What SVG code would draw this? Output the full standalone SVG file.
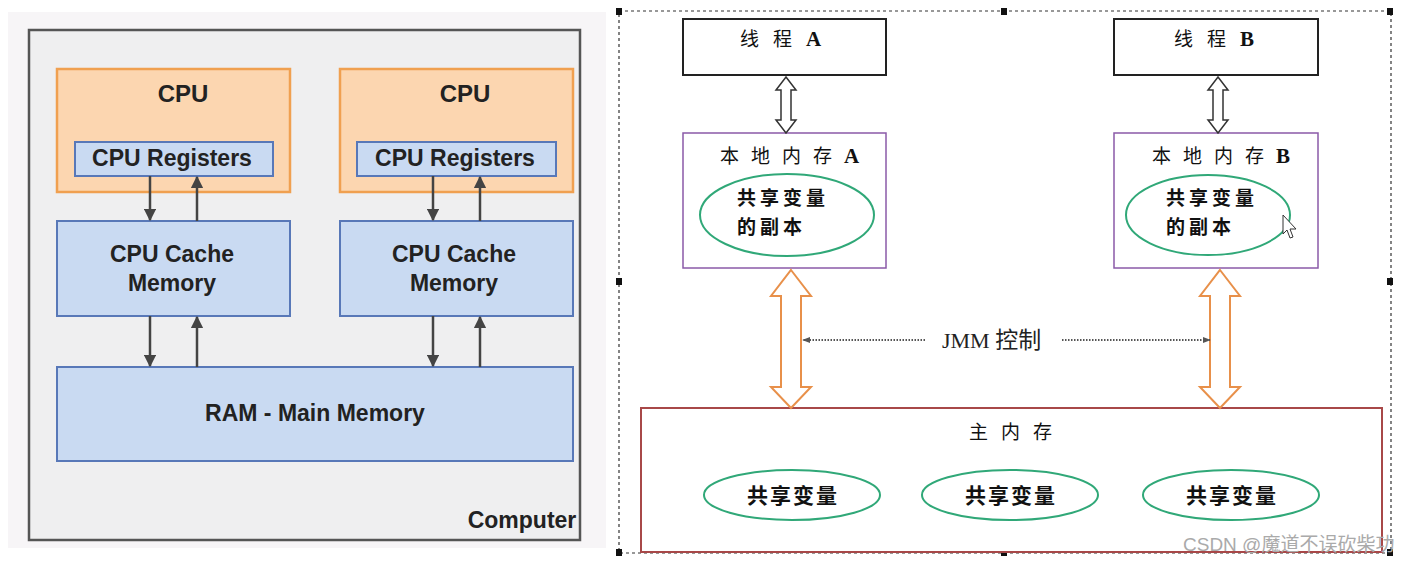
<svg xmlns="http://www.w3.org/2000/svg" width="1410" height="564" viewBox="0 0 1410 564">
<defs>
<style>
.en{font-family:"Liberation Sans",Arial,sans-serif;font-weight:bold;fill:#222;text-anchor:middle}
.cpu{fill:#fcd6b0;stroke:#f0a050;stroke-width:2.5}
.blue{fill:#c9daf2;stroke:#5878b8;stroke-width:2}
.ln{stroke:#444;stroke-width:2.5;fill:none}
.cn{font-family:"Noto Sans CJK SC","Liberation Sans",sans-serif;fill:#111;font-size:19px}
.sp{letter-spacing:12px}
.ev{font-family:"Noto Sans CJK SC",sans-serif;fill:#111;font-size:21px;font-weight:bold;letter-spacing:2px}
.ev2{font-family:"Noto Sans CJK SC",sans-serif;fill:#111;font-size:19px;font-weight:bold;letter-spacing:4px}
.ser{font-family:"Liberation Serif","Noto Sans CJK SC",serif;font-weight:bold;font-size:21px}
.ell{fill:#fff;stroke:#30a878;stroke-width:2}
.hollow{fill:#fff;stroke:#333;stroke-width:1.5}
.oarrow{fill:#fff;stroke:#e8904a;stroke-width:2}
.dot{stroke:#555;stroke-width:2;stroke-dasharray:1.5 1.5;fill:none}
.hdl{fill:#111}
</style>
<marker id="ah" viewBox="0 0 10 10" refX="9" refY="5" markerWidth="5" markerHeight="5" orient="auto-start-reverse"><path d="M0,0 L10,5 L0,10 z" fill="#444"/></marker>
<marker id="dh" viewBox="0 0 10 10" refX="9" refY="5" markerWidth="4" markerHeight="4" orient="auto-start-reverse"><path d="M0,1 L10,5 L0,9 z" fill="#555"/></marker>
</defs>
<rect width="1410" height="564" fill="#fff"/>
<!-- Left panel -->
<rect x="8" y="12" width="598" height="536" fill="#f7f5f7"/>
<g id="computer">
<rect x="29" y="30" width="551" height="510" fill="#efeff0" stroke="#555" stroke-width="2.5"/>
<text class="en" x="522" y="528" font-size="23">Computer</text>
</g>
<g id="cpu1"><rect class="cpu" x="57" y="69" width="233" height="123"/><text class="en" x="183" y="102" font-size="24">CPU</text></g>
<g id="cpu2"><rect class="cpu" x="340" y="69" width="233" height="123"/><text class="en" x="465" y="102" font-size="24">CPU</text></g>
<g id="reg1"><rect class="blue" x="75" y="142" width="198" height="34"/><text class="en" x="172" y="166" font-size="23">CPU Registers</text></g>
<g id="reg2"><rect class="blue" x="357" y="142" width="199" height="34"/><text class="en" x="455" y="166" font-size="23">CPU Registers</text></g>
<g id="cache1"><rect class="blue" x="57" y="221" width="233" height="95"/><text class="en" x="172" y="262" font-size="23">CPU Cache</text><text class="en" x="172" y="291" font-size="23">Memory</text></g>
<g id="cache2"><rect class="blue" x="340" y="221" width="233" height="95"/><text class="en" x="454" y="262" font-size="23">CPU Cache</text><text class="en" x="454" y="291" font-size="23">Memory</text></g>
<g id="ram"><rect class="blue" x="57" y="367" width="516" height="94"/><text class="en" x="315" y="421" font-size="23">RAM - Main Memory</text></g>
<g id="left-connectors">
<line class="ln" x1="150" y1="176" x2="150" y2="220" marker-end="url(#ah)"/>
<line class="ln" x1="197" y1="221" x2="197" y2="177" marker-end="url(#ah)"/>
<line class="ln" x1="433" y1="176" x2="433" y2="220" marker-end="url(#ah)"/>
<line class="ln" x1="480" y1="221" x2="480" y2="177" marker-end="url(#ah)"/>
<line class="ln" x1="150" y1="316" x2="150" y2="366" marker-end="url(#ah)"/>
<line class="ln" x1="197" y1="367" x2="197" y2="317" marker-end="url(#ah)"/>
<line class="ln" x1="433" y1="316" x2="433" y2="366" marker-end="url(#ah)"/>
<line class="ln" x1="480" y1="367" x2="480" y2="317" marker-end="url(#ah)"/>
</g>
<!-- Right panel -->
<g id="frame">
<rect x="619" y="11" width="772" height="542" fill="none" stroke="#333" stroke-width="1.2" stroke-dasharray="3 3"/>
<rect class="hdl" x="616" y="8" width="6" height="7"/><rect class="hdl" x="1001" y="8" width="6" height="7"/><rect class="hdl" x="1387" y="8" width="6" height="7"/>
<rect class="hdl" x="616" y="278" width="6" height="7"/><rect class="hdl" x="1387" y="278" width="6" height="7"/>
<rect class="hdl" x="616" y="549" width="6" height="7"/><rect class="hdl" x="1001" y="549" width="6" height="7"/><rect class="hdl" x="1387" y="549" width="6" height="7"/>
</g>
<g id="threadA"><rect x="683" y="19" width="203" height="56" fill="#fff" stroke="#222" stroke-width="2"/><text class="cn" x="740" y="46" letter-spacing="14">线程<tspan class="ser">A</tspan></text></g>
<g id="threadB"><rect x="1114" y="19" width="204" height="56" fill="#fff" stroke="#222" stroke-width="2"/><text class="cn" x="1174" y="46" letter-spacing="14">线程<tspan class="ser">B</tspan></text></g>
<g id="localA">
<rect x="683" y="133" width="203" height="135" fill="#fff" stroke="#8a5aa8" stroke-width="1.5"/>
<text class="cn sp" x="720" y="163">本地内存<tspan class="ser">A</tspan></text>
<ellipse class="ell" cx="787" cy="215" rx="87" ry="41"/>
<text class="ev2" x="737" y="205">共享变量</text><text class="ev2" x="737" y="234">的副本</text>
</g>
<g id="localB">
<rect x="1114" y="133" width="204" height="135" fill="#fff" stroke="#8a5aa8" stroke-width="1.5"/>
<text class="cn sp" x="1152" y="163">本地内存<tspan class="ser">B</tspan></text>
<ellipse class="ell" cx="1208" cy="215" rx="82" ry="40"/>
<text class="ev2" x="1166" y="205">共享变量</text><text class="ev2" x="1166" y="234">的副本</text>
<path d="M1283,215 L1283,234 L1287,230 L1290,238 L1293,237 L1290,229 L1296,229 Z" fill="#fff" stroke="#333" stroke-width="1"/>
</g>
<g id="mainMem">
<rect x="641" y="408" width="741" height="144" fill="#fff" stroke="#a84848" stroke-width="2"/>
<text class="cn" x="969" y="439" letter-spacing="13">主内存</text>
<ellipse class="ell" cx="792" cy="495" rx="88" ry="25"/><text class="ev" x="793" y="503" text-anchor="middle">共享变量</text>
<ellipse class="ell" cx="1010" cy="495" rx="88" ry="25"/><text class="ev" x="1011" y="503" text-anchor="middle">共享变量</text>
<ellipse class="ell" cx="1231" cy="495" rx="88" ry="25"/><text class="ev" x="1232" y="503" text-anchor="middle">共享变量</text>
</g>
<g id="right-connectors">
<path class="hollow" d="M786,77 L796,90 L791,90 L791,120 L796,120 L786,133 L776,120 L781,120 L781,90 L776,90 Z"/>
<path class="hollow" d="M1218,77 L1228,90 L1223,90 L1223,120 L1228,120 L1218,133 L1208,120 L1213,120 L1213,90 L1208,90 Z"/>
<path class="oarrow" d="M791,270 L811,296 L801,296 L801,387 L811,387 L791,408 L771,387 L781,387 L781,296 L771,296 Z"/>
<path class="oarrow" d="M1220,270 L1240,296 L1230,296 L1230,387 L1240,387 L1220,408 L1200,387 L1210,387 L1210,296 L1200,296 Z"/>
<line class="dot" x1="925" y1="340" x2="803" y2="340" marker-end="url(#dh)"/>
<line class="dot" x1="1062" y1="340" x2="1210" y2="340" marker-end="url(#dh)"/>
<text x="942" y="348" font-size="22" fill="#222" font-family="Liberation Serif,'Noto Sans CJK SC',serif">JMM <tspan font-family="Noto Sans CJK SC,sans-serif" font-size="23">控制</tspan></text>
</g>
<text x="1183" y="551" font-size="19" fill="#aaa" font-family="Liberation Sans,'Noto Sans CJK SC',sans-serif">CSDN @魔道不误砍柴功</text>
</svg>
